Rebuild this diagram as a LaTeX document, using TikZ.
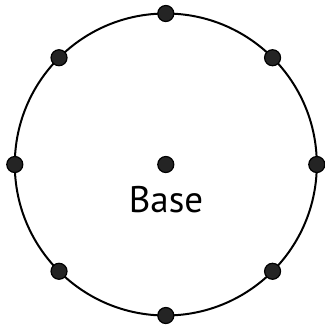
\documentclass[tikz,border=0pt]{standalone}
\usepackage{fontspec}
\setmainfont{PT Sans}
\usetikzlibrary{calc}
\begin{document}
\begin{tikzpicture}[x=1pt,y=-1pt,
  ring/.style={draw=black,line width=2pt},
  pt/.style={circle,fill=black!86,draw=black,line width=1.2pt,minimum size=16pt,inner sep=0pt},
  lbl/.style={font=\fontsize{37}{40}\selectfont,inner sep=0pt,anchor=base}]
\useasboundingbox (0,0) rectangle (325,325);
\coordinate (c) at (165.8,164.5);
\draw[ring] (c) circle[radius=151];
\node[pt] (center) at (c) {};
\foreach \a/\n in {0/e,45/ne,90/n,135/nw,180/w,225/sw,270/s,315/se}{
  \node[pt] (\n) at ($(c)+(\a:151)$) {};
}
\node[lbl] (base) at (166,212) {Base};
\end{tikzpicture}
\end{document}
